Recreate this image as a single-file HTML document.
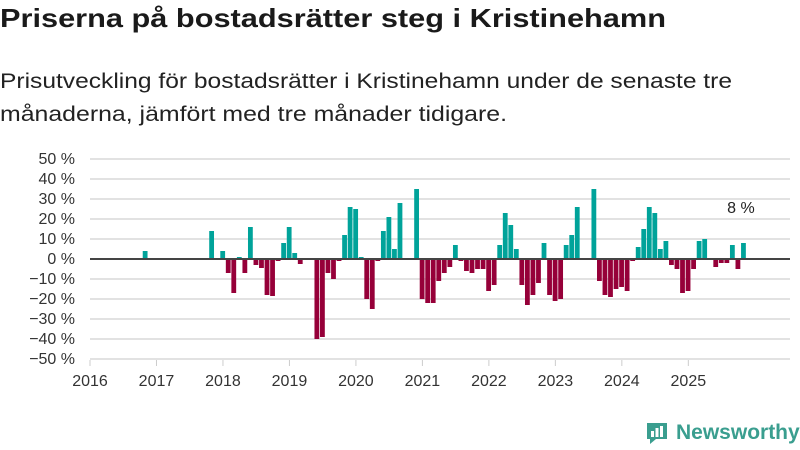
<!DOCTYPE html>
<html><head><meta charset="utf-8"><style>
body{margin:0;width:800px;height:450px;background:#fff;font-family:"Liberation Sans","DejaVu Sans",sans-serif;overflow:hidden;position:relative}
.fit{position:absolute;left:0;margin:0;white-space:nowrap;transform-origin:0 0;display:inline-block}
#t{top:3px;font-size:26px;font-weight:bold;color:#1a1a1a}
#s1{top:70px;font-size:21px;color:#222}
#s2{top:103px;font-size:21px;color:#222}
svg{position:absolute;left:0;top:0}
</style></head><body>
<div id="t" class="fit" data-w="666">Priserna på bostadsrätter steg i Kristinehamn</div>
<div id="s1" class="fit" data-w="732">Prisutveckling för bostadsrätter i Kristinehamn under de senaste tre</div>
<div id="s2" class="fit" data-w="507">månaderna, jämfört med tre månader tidigare.</div>
<svg id="c" width="800" height="450"></svg>
<script>
document.querySelectorAll('.fit').forEach(e=>{const w=e.getBoundingClientRect().width;e.style.transform='scaleX('+(+e.dataset.w/w)+')';});
const yTicks=[50,40,30,20,10,0,-10,-20,-30,-40,-50];
const years=[2016,2017,2018,2019,2020,2021,2022,2023,2024,2025];
// monthly values from Jan 2016 (index 0)
const values=[0,0,0,0,0,0,0,0,0,4,0,0,0,0,0,0,0,0,0,0,0,14,0,4,-7,-17,1,-7,16,-3,
-4.5,-18,-18.5,-1,8,16,3,-2.5,0,0,-40,-39,-7,-10,-1,12,26,25,1,-20,
-25,-1,14,21,5,28,0,0,35,-20,-22,-22,-11,-7,-4,7,-1,-6,-7,-5,
-5,-16,-13,7,23,17,5,-13,-23,-18,-12,8,-18,-21,-20,7,12,26,0,0,
35,-11,-18,-19,-15,-14,-16,-1,6,15,26,23,5,9,-3,-5,-17,-16,-5,9,
10,0,-4,-2,-2,7,-5,8];
const lastLabel="8 %";
const svg=document.getElementById('c');const NS='http://www.w3.org/2000/svg';
const X0=90,X1=790,MW=5.54,Y0=259,PY=2;
const x=m=>X0+m*MW;const y=v=>Y0-v*PY;
function el(t,a,p){const e=document.createElementNS(NS,t);for(const k in a)e.setAttribute(k,a[k]);(p||svg).appendChild(e);return e;}
yTicks.forEach(v=>{
 const g=el('line',{x1:X0,x2:X1,y1:y(v),y2:y(v),stroke:'#e2e2e2','stroke-width':2});
 
 
 const t=el('text',{x:75,y:y(v)+5,'text-anchor':'end','font-size':16,fill:'#333'});
 t.textContent=(v<0?'−':'')+Math.abs(v)+' %';
 
 
});
years.forEach((yr,i)=>{
 const xx=x(i*12);
 const tk=el('line',{x1:xx,x2:xx,y1:360,y2:366,stroke:'#ccc','stroke-width':1});
 
 
 const t=el('text',{x:xx,y:386,'text-anchor':'middle','font-size':16,fill:'#333'});
 t.textContent=yr;
 
 
});
values.forEach((v,m)=>{
 if(v===0)return;
 const cx=x(m+0.5)+2.5;
 const r=el('rect',{x:cx-2.4,width:4.8,y:Math.min(y(v),Y0),height:Math.abs(v)*PY,fill:v>0?'#00a39a':'#960039'});
 
 
});
const z=el('line',{x1:X0,x2:X1,y1:Y0,y2:Y0,stroke:'#444','stroke-width':2});


const lm=values.length-1;
const lt=el('text',{x:x(lm+0.5),y:y(values[lm])-30,'text-anchor':'middle','font-size':16,fill:'#222'});
lt.textContent=lastLabel;


</script>
<div style="position:absolute;left:644px;top:420px;display:flex;align-items:center;gap:6px">
<svg width="26" height="26" viewBox="0 0 26 26" style="position:static"><path d="M3 3h20v16H12l-6 5v-5H3z" fill="#3a9e8f"/><rect x="7" y="11" width="3" height="6" fill="#fff"/><rect x="11.5" y="8" width="3" height="9" fill="#fff"/><rect x="16" y="6" width="3" height="11" fill="#fff"/></svg>
<span style="font-size:21px;font-weight:bold;color:#3a9e8f">Newsworthy</span></div>
</body></html>
